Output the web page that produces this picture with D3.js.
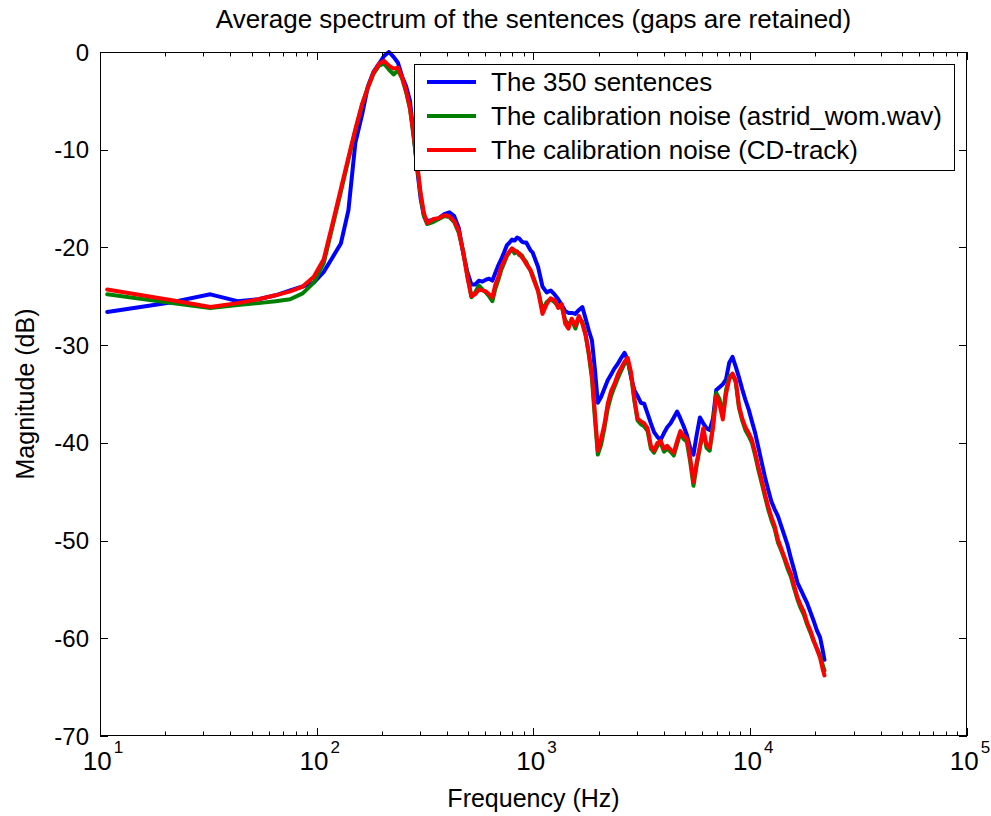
<!DOCTYPE html>
<html>
<head>
<meta charset="utf-8">
<script src="https://cdn.jsdelivr.net/npm/d3@7/dist/d3.min.js"></script>
<style>
  html, body { margin: 0; padding: 0; background: #fff; }
  svg { display: block; }
  text { font-family: "Liberation Sans", Arial, Helvetica, sans-serif; fill: #000; }
</style>
</head>
<body>
<svg id="chart" width="991" height="816"></svg>
<script>
// ---------------- DATA ----------------
const freqs = [
  10.8, 21.5, 32.3, 43.1, 53.8, 64.6, 75.4, 86.1, 96.9, 107.7,
  118.4, 129.2, 140, 150.7, 161.5, 172.3, 183, 193.8, 204.6, 215.3,
  226.1, 236.9, 247.6, 258.4, 269.2, 280, 290.7, 301.5, 312.3, 323,
  344.5, 366, 387.6, 409, 430.7, 452, 474, 495, 517, 538,
  560, 581, 603, 624, 646, 667, 689, 710, 732, 753,
  775, 796, 818, 840, 861, 883, 904, 926, 947, 969, 990,
  1050, 1100, 1150, 1200, 1250, 1300, 1350, 1400, 1450, 1500,
  1560, 1620, 1680, 1740, 1800, 1860, 1920, 1980, 2050, 2120,
  2200, 2280, 2360, 2450, 2540, 2630, 2720, 2820, 2920, 3020,
  3130, 3240, 3360, 3480, 3600, 3730, 3860, 4000, 4140, 4290,
  4440, 4600, 4760, 4930, 5100, 5280, 5470, 5660, 5860, 6070,
  6280, 6500, 6730, 6970, 7210, 7470, 7730, 8000, 8280, 8570,
  8870, 9180, 9500, 9840, 10180, 10540, 10910, 11290, 11690, 12100,
  12520, 12960, 13420, 13890, 14380, 14880, 15400, 15940, 16500, 17080,
  17680, 18300, 18940, 19600, 20290, 21000, 21500, 22000
];

const sentencesDb = [
  -26.6, -25.6, -24.8, -25.5, -25.3, -24.9, -24.4, -24.0, -23.6, -22.5,
  -21.0, -19.6, -16.2, -9.3, -6.5, -3.5, -2.0, -1.2, -0.4, 0.0,
  -0.5, -1.1, -2.5, -3.5, -5.0, -8.5, -12.0, -15.0, -16.8, -17.3,
  -17.2, -17.0, -16.6, -16.4, -16.8, -18.0, -20.6, -22.5, -23.8, -23.8,
  -23.4, -23.5, -23.3, -23.2, -23.4, -22.6, -21.8, -21.2, -20.5, -19.8,
  -19.5, -19.2, -19.3, -19.0, -19.1, -19.4, -19.5, -19.5, -19.9, -20.3, -20.5,
  -22.0, -24.0, -24.6, -24.4, -24.8, -25.3, -25.9, -26.5, -26.7, -26.7,
  -26.8, -26.4, -26.1, -27.3, -28.5, -29.5, -32.5, -35.9, -35.3, -34.5,
  -33.6, -33.0, -32.4, -31.9, -31.3, -30.8, -31.5, -33.3, -34.6, -35.2,
  -35.9, -36.0, -37.0, -38.0, -38.9, -39.4, -39.7, -39.0, -38.4, -38.0,
  -37.4, -36.8, -37.5, -38.3, -39.2, -40.5, -41.2, -39.2, -37.4, -38.0,
  -38.5, -38.7, -37.5, -34.6, -34.3, -34.0, -33.5, -31.8, -31.2, -32.2,
  -33.3, -34.5, -35.6, -36.6, -37.8, -39.0, -40.5, -42.0, -43.5, -44.8,
  -46.0, -46.8, -47.5, -48.5, -49.5, -50.5, -51.8, -53.0, -54.3, -55.0,
  -55.7, -56.4, -57.3, -58.2, -59.2, -59.9, -61.0, -62.2
];

const astridDb = [
  -24.8, -25.7, -26.2, -25.9, -25.7, -25.5, -25.3, -24.7, -23.6, -21.6,
  -17.8, -14.3, -11.0, -8.0, -5.5, -3.6, -2.2, -1.4, -1.2, -1.8,
  -2.3, -1.9, -2.7, -4.1, -5.8, -8.7, -11.6, -14.6, -16.8, -17.6,
  -17.4, -17.1, -16.8, -16.9, -17.4, -18.5, -20.4, -22.8, -25.1, -24.6,
  -23.9, -24.3, -24.6, -25.0, -25.5, -24.2, -23.3, -22.3, -21.6, -20.9,
  -20.5, -20.2, -20.6, -20.4, -20.8, -20.8, -21.2, -21.5, -22.0, -22.4, -22.8,
  -24.4, -26.4, -25.6, -25.3, -25.6, -26.0, -26.1, -27.4, -28.0, -27.4,
  -28.3, -27.2, -27.6, -28.9, -31.0, -33.4, -37.5, -41.2, -40.2, -38.6,
  -36.5, -35.2, -34.3, -33.4, -32.6, -31.9, -31.6, -33.1, -35.7, -37.7,
  -38.1, -38.3, -38.8, -40.6, -41.0, -40.3, -40.0, -40.9, -40.6, -40.9,
  -41.3, -40.1, -39.0, -39.6, -39.9, -41.9, -44.4, -42.3, -40.5, -38.8,
  -40.5, -40.8, -38.2, -34.9, -35.5, -37.2, -34.6, -33.2, -33.0, -33.8,
  -36.4, -37.7, -38.7, -39.3, -40.0, -41.3, -42.8, -44.1, -45.5, -46.8,
  -47.9, -48.8, -50.2, -51.0, -51.9, -52.9, -53.7, -54.9, -56.0, -56.9,
  -57.6, -58.6, -59.4, -60.3, -61.0, -61.8, -62.6, -63.3
];

const cdTrackDb = [
  -24.3, -25.4, -26.1, -25.7, -25.3, -24.9, -24.5, -24.0, -23.0, -21.2,
  -17.5, -14.0, -10.8, -7.9, -5.4, -3.6, -2.1, -1.2, -0.9, -1.4,
  -1.7, -1.6, -2.6, -4.0, -5.7, -8.5, -11.5, -14.5, -16.5, -17.5,
  -17.1, -17.0, -16.7, -16.8, -17.3, -18.3, -20.5, -23.0, -25.0, -24.8,
  -24.3, -24.4, -24.5, -24.8, -25.1, -23.8, -23.0, -22.0, -21.4, -20.8,
  -20.4, -20.1, -20.3, -20.5, -20.6, -21.0, -21.3, -21.7, -22.0, -22.3, -23.0,
  -24.5, -26.8, -25.8, -25.2, -25.4, -26.2, -25.8, -27.8, -28.3, -27.3,
  -28.0, -27.0, -27.8, -29.0, -30.8, -33.0, -37.0, -40.8, -39.6, -38.2,
  -36.0, -34.7, -34.0, -33.0, -32.3, -31.7, -31.3, -32.8, -35.5, -37.5,
  -37.8, -38.0, -38.5, -40.3, -40.8, -40.0, -39.8, -40.6, -40.3, -40.7,
  -41.0, -39.8, -38.8, -39.3, -39.6, -41.5, -44.0, -42.0, -40.3, -38.5,
  -40.2, -40.5, -38.5, -35.2, -36.0, -37.6, -35.0, -33.5, -32.9, -33.6,
  -36.2, -37.5, -38.4, -39.0, -39.7, -41.0, -42.5, -43.8, -45.2, -46.5,
  -47.6, -48.5, -49.9, -50.8, -51.7, -52.6, -53.4, -54.6, -55.8, -56.6,
  -57.3, -58.4, -59.2, -60.2, -61.1, -62.0, -63.0, -63.8
];

const seriesNames = [
  "The 350 sentences",
  "The calibration noise (astrid_wom.wav)",
  "The calibration noise (CD-track)"
];
const seriesColors = ["#0000ff", "#008000", "#ff0000"];

const yTicks = [-70, -60, -50, -40, -30, -20, -10, 0];
const xMajorTicks = [10, 100, 1000, 10000, 100000];
const xTickExponents = ["1", "2", "3", "4", "5"];

const titleText = "Average spectrum of the sentences (gaps are retained)";
const xLabelText = "Frequency (Hz)";
const yLabelText = "Magnitude (dB)";

// ---------------- LAYOUT ----------------
const svg = d3.select("#chart");
const L = 100, R = 967, T = 52, B = 736;

const x = d3.scaleLog().domain([10, 100000]).range([L, R]);
const y = d3.scaleLinear().domain([-70, 0]).range([B, T]);

svg.append("rect").attr("width", 991).attr("height", 816).attr("fill", "#fff");

svg.append("defs").append("clipPath").attr("id", "clip")
  .append("rect").attr("x", L).attr("y", T - 2).attr("width", R - L).attr("height", B - T + 2);

// lines
const seriesData = [sentencesDb, astridDb, cdTrackDb];
const line = d3.line().x(d => x(d[0])).y(d => y(d[1]));
const gLines = svg.append("g").attr("clip-path", "url(#clip)");
seriesData.forEach((vals, i) => {
  gLines.append("path")
    .datum(freqs.map((f, k) => [f, vals[k]]))
    .attr("d", line)
    .attr("fill", "none")
    .attr("stroke", seriesColors[i])
    .attr("stroke-width", 4)
    .attr("stroke-linejoin", "round")
    .attr("stroke-linecap", "round");
});

// axes box & ticks
const gAx = svg.append("g").attr("stroke", "#000").attr("stroke-width", 1).attr("fill", "none");
gAx.append("rect").attr("x", L + 0.5).attr("y", T + 0.5).attr("width", R - L - 1).attr("height", B - T - 1);

const majorLen = 8, minorLen = 4.5;
yTicks.forEach(v => {
  const yy = Math.round(y(v)) + 0.5;
  gAx.append("line").attr("x1", L).attr("x2", L + majorLen).attr("y1", yy).attr("y2", yy);
  gAx.append("line").attr("x1", R - majorLen).attr("x2", R).attr("y1", yy).attr("y2", yy);
});
const minorTicks = [];
xMajorTicks.slice(0, -1).forEach(d => { for (let m = 2; m <= 9; m++) minorTicks.push(d * m); });
xMajorTicks.forEach(v => {
  const xx = Math.round(x(v)) + 0.5;
  gAx.append("line").attr("x1", xx).attr("x2", xx).attr("y1", B).attr("y2", B - majorLen);
  gAx.append("line").attr("x1", xx).attr("x2", xx).attr("y1", T).attr("y2", T + majorLen);
});
minorTicks.forEach(v => {
  const xx = Math.round(x(v)) + 0.5;
  gAx.append("line").attr("x1", xx).attr("x2", xx).attr("y1", B).attr("y2", B - minorLen);
  gAx.append("line").attr("x1", xx).attr("x2", xx).attr("y1", T).attr("y2", T + minorLen);
});

// y tick labels
svg.append("g").selectAll("text").data(yTicks).join("text")
  .attr("x", L - 11).attr("y", d => y(d)).attr("dy", "0.36em")
  .attr("text-anchor", "end").attr("font-size", 24)
  .text(d => d === 0 ? "0" : "-" + Math.abs(d));

// x tick labels
xMajorTicks.forEach((v, i) => {
  const t = svg.append("text").attr("x", x(v) + 3).attr("y", 770)
    .attr("text-anchor", "middle").attr("font-size", 26);
  t.append("tspan").text("10");
  t.append("tspan").attr("font-size", 17).attr("dy", -17).attr("dx", 2).text(xTickExponents[i]);
});

// title & labels
svg.append("text").attr("x", (L + R) / 2).attr("y", 28).attr("text-anchor", "middle")
  .attr("font-size", 26).text(titleText);
svg.append("text").attr("x", (L + R) / 2).attr("y", 807).attr("text-anchor", "middle")
  .attr("font-size", 25).text(xLabelText);
svg.append("text").attr("transform", `translate(34,${(T + B) / 2}) rotate(-90)`)
  .attr("text-anchor", "middle").attr("font-size", 25).text(yLabelText);

// legend
const lg = svg.append("g");
lg.append("rect").attr("x", 414.5).attr("y", 64.5).attr("width", 540).attr("height", 106)
  .attr("fill", "#fff").attr("stroke", "#000").attr("stroke-width", 1);
seriesNames.forEach((name, i) => {
  const yy = 82 + i * 34;
  lg.append("line").attr("x1", 427).attr("x2", 476).attr("y1", yy).attr("y2", yy)
    .attr("stroke", seriesColors[i]).attr("stroke-width", 4);
  lg.append("text").attr("x", 491).attr("y", yy).attr("dy", "0.36em")
    .attr("font-size", 26).text(name);
});
</script>
</body>
</html>
